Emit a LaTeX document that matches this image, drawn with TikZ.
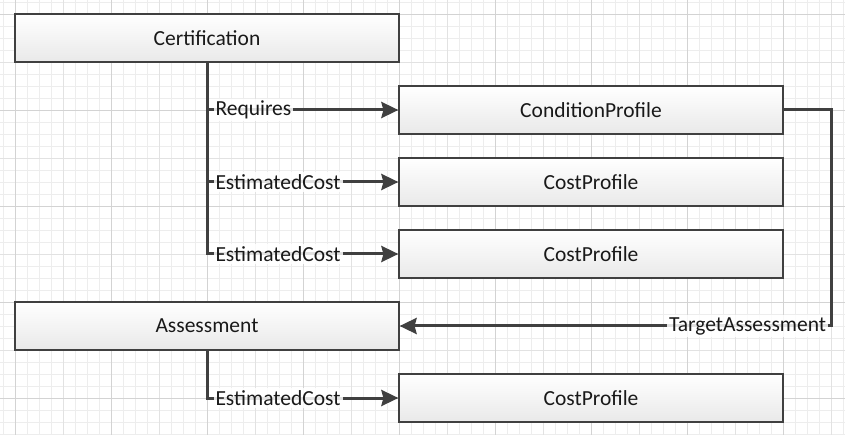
\documentclass[tikz,border=0pt]{standalone}
\usepackage{fontspec}
\setmainfont{Carlito}
\usetikzlibrary{arrows.meta}
\definecolor{gminor}{HTML}{EDEDED}
\definecolor{gmed}{HTML}{E2E2E2}
\definecolor{gmajor}{HTML}{D3D3D3}
\definecolor{ink}{HTML}{404040}
\definecolor{boxbot}{HTML}{E9E9E9}
\tikzset{
  box/.style={draw=ink, line width=1.2bp, top color=white, bottom color=boxbot,
    minimum width=384bp, minimum height=48bp, inner sep=0pt, text=black!90,
    font=\fontsize{21.5bp}{25bp}\selectfont},
  conn/.style={draw=ink, line width=3bp, -{Stealth[length=17bp,width=16bp,inset=2bp]}},
  lbl/.style={fill=white, fill opacity=0.85, text opacity=1, inner sep=2bp, text=black!90,
    font=\fontsize{21.5bp}{25bp}\selectfont}
}
\begin{document}
\begin{tikzpicture}[x=1bp,y=-1bp]
\useasboundingbox (0,0) rectangle (845,435);
\fill[white] (0,0) rectangle (845,435);
% grid
\foreach \x in {3,15,...,843} \draw[gminor, line width=0.8bp] (\x,0) -- (\x,435);
\foreach \y in {2,14,...,434} \draw[gminor, line width=0.8bp] (0,\y) -- (845,\y);
\foreach \x in {63,159,...,831} \draw[gmed, line width=0.8bp] (\x,0) -- (\x,435);
\foreach \y in {62,158,254,350} \draw[gmed, line width=0.8bp] (0,\y) -- (845,\y);
\foreach \x in {15,111,...,783} \draw[gmajor, line width=0.8bp] (\x,0) -- (\x,435);
\foreach \y in {14,110,206,302,398} \draw[gmajor, line width=0.8bp] (0,\y) -- (845,\y);
% boxes
\node[box] (cert) at (207,38) {Certification};
\node[box] (cond) at (591,110) {ConditionProfile};
\node[box] (cost1) at (591,182) {CostProfile};
\node[box] (cost2) at (591,254) {CostProfile};
\node[box] (assess) at (207,326) {Assessment};
\node[box] (cost3) at (591,398) {CostProfile};
% connectors
\draw[conn] (cert.south) |- node[lbl, pos=0.5, anchor=west, xshift=5bp] {Requires} (cond.west);
\draw[conn] (cert.south) |- node[lbl, pos=0.5, anchor=west, xshift=5bp] {EstimatedCost} (cost1.west);
\draw[conn] (cert.south) |- node[lbl, pos=0.5, anchor=west, xshift=5bp] {EstimatedCost} (cost2.west);
\draw[conn] (assess.south) |- node[lbl, pos=0.5, anchor=west, xshift=5bp] {EstimatedCost} (cost3.west);
\draw[conn] (cond.east) -- ++(48,0) |- node[lbl, pos=0.5, anchor=east, xshift=-2bp] {TargetAssessment} (assess.east);
\end{tikzpicture}
\end{document}
